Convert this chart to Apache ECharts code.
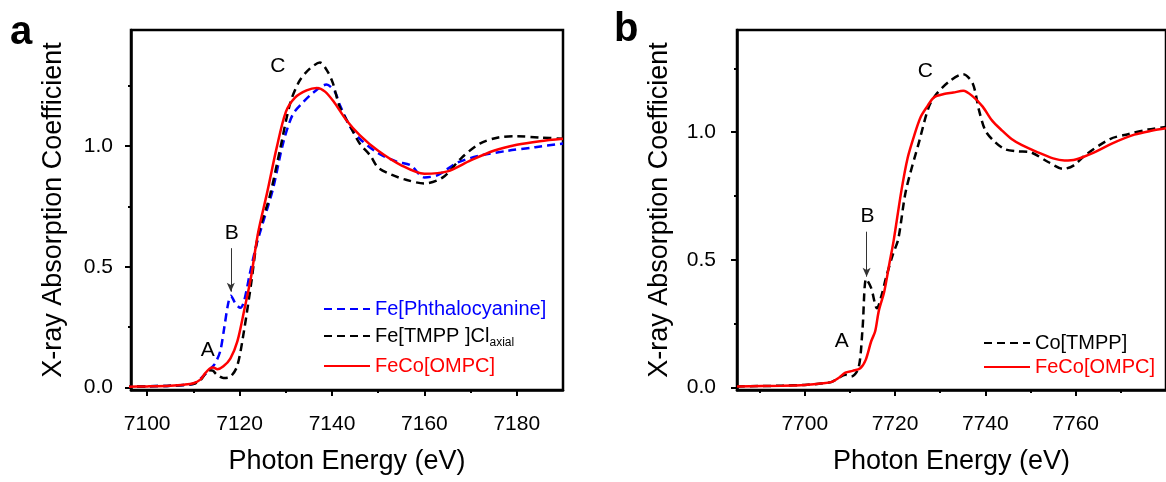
<!DOCTYPE html>
<html>
<head>
<meta charset="utf-8">
<title>XANES</title>
<script src="https://cdn.jsdelivr.net/npm/echarts@6/dist/echarts.min.js"></script>
<style>
html, body { margin: 0; padding: 0; background: #fff; }
#chart { width: 1166px; height: 482px; }
</style>
</head>
<body>
<div id="chart"></div>
<script>
// ---- panel a : Fe K-edge ----
const aPhthE = [7095, 7100, 7105, 7110, 7112, 7113.5, 7114.6, 7115.8, 7116.7, 7117.5, 7118.1, 7119.2, 7120.2, 7121, 7122.2, 7123.5, 7124.7, 7127.2, 7129.4, 7131.5, 7133.7, 7135.9, 7138.8, 7140.6, 7141.7, 7143.9, 7146, 7150, 7154, 7157, 7160, 7163, 7167, 7172, 7178, 7184, 7190];
const aPhthY = [0.003, 0.005, 0.008, 0.016, 0.045, 0.075, 0.097, 0.15, 0.25, 0.345, 0.38, 0.345, 0.33, 0.36, 0.47, 0.58, 0.66, 0.82, 1.01, 1.13, 1.18, 1.22, 1.254, 1.225, 1.17, 1.08, 1.03, 0.97, 0.935, 0.92, 0.87, 0.88, 0.93, 0.96, 0.98, 0.995, 1.01];

const aTmppE = [7095, 7100, 7105, 7110, 7111.5, 7112.5, 7113.3, 7114.2, 7115, 7116.5, 7118, 7119.5, 7121, 7122.5, 7124, 7126.5, 7128.7, 7131, 7133, 7135.2, 7137.4, 7139, 7140.2, 7141.7, 7144, 7146, 7148.3, 7150, 7153, 7156, 7160, 7164, 7168, 7172, 7176, 7180, 7185, 7190];
const aTmppY = [0.003, 0.005, 0.008, 0.015, 0.03, 0.055, 0.072, 0.07, 0.055, 0.04, 0.045, 0.09, 0.24, 0.43, 0.63, 0.79, 0.98, 1.18, 1.27, 1.32, 1.345, 1.31, 1.26, 1.16, 1.08, 1.01, 0.96, 0.91, 0.88, 0.86, 0.845, 0.87, 0.95, 1.01, 1.035, 1.04, 1.035, 1.03];

const aOmpcE = [7095, 7100, 7105, 7108, 7110, 7111.5, 7112.5, 7113.5, 7114.3, 7115.2, 7116.5, 7118, 7119.5, 7121, 7122.5, 7124, 7126, 7128, 7130, 7132, 7134.5, 7136.7, 7138.5, 7140.5, 7143, 7146, 7150, 7155, 7160, 7165, 7170, 7175, 7180, 7185, 7190];
const aOmpcY = [0.003, 0.005, 0.008, 0.012, 0.018, 0.033, 0.058, 0.078, 0.083, 0.076, 0.088, 0.12, 0.19, 0.32, 0.46, 0.64, 0.81, 0.99, 1.14, 1.2, 1.23, 1.24, 1.225, 1.18, 1.11, 1.045, 0.98, 0.92, 0.885, 0.895, 0.94, 0.98, 1.005, 1.02, 1.03];

// ---- panel b : Co K-edge ----
const bTmppE = [7685, 7695, 7700, 7704, 7706, 7707.4, 7709, 7710.3, 7711.9, 7712.8, 7713.6, 7714.7, 7716, 7717, 7718, 7719.5, 7720.7, 7722.4, 7725.4, 7727.5, 7729.2, 7732.1, 7735.1, 7737.2, 7738.6, 7740, 7741.8, 7744.2, 7747, 7750, 7754, 7757.3, 7759.6, 7762, 7767.6, 7771.6, 7776, 7780];
const bTmppY = [0.004, 0.007, 0.01, 0.016, 0.022, 0.036, 0.05, 0.043, 0.075, 0.23, 0.425, 0.39, 0.31, 0.36, 0.43, 0.52, 0.58, 0.77, 0.967, 1.1, 1.15, 1.2, 1.227, 1.19, 1.085, 1.006, 0.967, 0.934, 0.925, 0.921, 0.882, 0.856, 0.87, 0.908, 0.973, 0.992, 1.01, 1.02];

const bOmpcE = [7685, 7695, 7700, 7704, 7706, 7707.4, 7709, 7710.6, 7712.3, 7713.5, 7714.7, 7715.6, 7716.4, 7717.6, 7718.8, 7719.7, 7721.4, 7722.8, 7724.3, 7725.7, 7727.1, 7728.6, 7730.8, 7732.9, 7735.1, 7737.2, 7739.4, 7741.5, 7743.7, 7745.8, 7748, 7751.6, 7755, 7757.5, 7760, 7764, 7768, 7773, 7777, 7780];
const bOmpcY = [0.004, 0.007, 0.01, 0.016, 0.022, 0.036, 0.058, 0.065, 0.075, 0.108, 0.18, 0.22, 0.3, 0.375, 0.49, 0.576, 0.77, 0.9, 0.99, 1.06, 1.1, 1.136, 1.149, 1.155, 1.162, 1.14, 1.1, 1.045, 1.006, 0.973, 0.95, 0.921, 0.897, 0.889, 0.893, 0.92, 0.955, 0.99, 1.006, 1.015];

// ticks
const aTicks = [7100, 7120, 7140, 7160, 7180];
const aMinor = [7110, 7130, 7150, 7170];
const bTicks = [7700, 7720, 7740, 7760];
const bMinor = [7690, 7710, 7730, 7750, 7770];
const yTicks = [0, 0.5, 1.0];
const yMinor = [0.25, 0.75, 1.25];

// peak labels [energy, value, text]
const aPeaks = [[7113.1, 0.155, 'A'], [7118.3, 0.64, 'B'], [7128.3, 1.33, 'C']];
const bPeaks = [[7708.2, 0.18, 'A'], [7713.9, 0.67, 'B'], [7726.7, 1.24, 'C']];
const aArrow = [[7118.1, 0.577], [7118.1, 0.397]];
const bArrow = [[7713.7, 0.61], [7713.7, 0.434]];

const FONT = "'Liberation Sans', Arial, sans-serif";
const BLACK = '#000000', RED = '#ff0000', BLUE = '#0000ff';

function pairs(xs, ys) {
    return xs.map((x, i) => [x, ys[i]]);
}

function xMajor(grid, min, max, ticks) {
    return {
        type: 'value', gridIndex: grid, min: min, max: max, position: 'bottom',
        name: 'Photon Energy (eV)', nameLocation: 'middle', nameGap: 58,
        nameTextStyle: { fontSize: 27, color: BLACK, fontFamily: FONT },
        axisLine: { show: true, onZero: false, lineStyle: { color: BLACK, width: 2.5 } },
        axisTick: { show: true, customValues: ticks, length: 6, lineStyle: { color: BLACK, width: 2 } },
        axisLabel: {
            show: true, customValues: ticks, margin: 24, fontSize: 21, color: BLACK, fontFamily: FONT,
            formatter: v => String(v)
        },
        splitLine: { show: false }
    };
}

function xMinor(grid, min, max, ticks) {
    return {
        type: 'value', gridIndex: grid, min: min, max: max, position: 'bottom',
        axisLine: { show: false, onZero: false },
        axisTick: { show: true, customValues: ticks, length: 3, lineStyle: { color: BLACK, width: 2 } },
        axisLabel: { show: false },
        splitLine: { show: false }
    };
}

function yMajor(grid, min, max, margin) {
    return {
        type: 'value', gridIndex: grid, min: min, max: max, position: 'left',
        name: 'X-ray Absorption Coefficient', nameLocation: 'middle', nameGap: 64,
        nameTextStyle: { fontSize: 27, color: BLACK, fontFamily: FONT },
        axisLine: { show: true, onZero: false, lineStyle: { color: BLACK, width: 2.5 } },
        axisTick: { show: true, customValues: yTicks, length: 6, lineStyle: { color: BLACK, width: 2 } },
        axisLabel: {
            show: true, customValues: yTicks, margin: margin, fontSize: 21, color: BLACK, fontFamily: FONT,
            formatter: v => v.toFixed(1)
        },
        splitLine: { show: false }
    };
}

function yMinorAxis(grid, min, max) {
    return {
        type: 'value', gridIndex: grid, min: min, max: max, position: 'left',
        axisLine: { show: false, onZero: false },
        axisTick: { show: true, customValues: yMinor, length: 3, lineStyle: { color: BLACK, width: 2 } },
        axisLabel: { show: false },
        splitLine: { show: false }
    };
}

function curve(name, xi, xs, ys, color, dashed) {
    return {
        type: 'line', name: name, xAxisIndex: xi, yAxisIndex: xi,
        data: pairs(xs, ys), symbol: 'none', showSymbol: false, smooth: 0.3,
        lineStyle: { color: color, width: 2.5, type: dashed ? [8, 5] : 'solid' },
        itemStyle: { color: color },
        z: dashed ? 2 : 3
    };
}

// invisible carrier series for the A/B/C labels and the arrow
function notes(xi, peaks, arrow) {
    return {
        type: 'line', xAxisIndex: xi, yAxisIndex: xi, data: [], silent: true,
        markPoint: {
            symbol: 'circle', symbolSize: 1, itemStyle: { color: 'transparent' },
            label: { show: true, position: 'inside', formatter: '{b}', fontSize: 21, color: BLACK, fontFamily: FONT },
            data: peaks.map(p => ({ name: p[2], coord: [p[0], p[1]] }))
        },
        markLine: {
            silent: true, symbol: ['none', 'arrow'], symbolSize: [6, 9],
            lineStyle: { color: '#333', width: 1, type: 'solid' },
            label: { show: false },
            data: [[{ coord: arrow[0] }, { coord: arrow[1] }]]
        }
    };
}

const legendText = {
    fontSize: 20, fontFamily: FONT,
    rich: {
        n: { fontSize: 20, color: BLACK, fontFamily: FONT },
        s: { fontSize: 12, color: BLACK, fontFamily: FONT, padding: [11, 0, 0, 0], verticalAlign: 'top', lineHeight: 12 }
    }
};

// the line legend icon carries a symbol; hide it so only the line sample shows
const legendBase = {
    orient: 'vertical', itemWidth: 46, itemHeight: 14, selectedMode: false,
    itemStyle: { opacity: 0, borderWidth: 0 }
};

const chart = echarts.init(document.getElementById('chart'), null, { renderer: 'canvas' });

const option = {
    backgroundColor: '#ffffff',
    animation: false,
    grid: [
        { left: 131, top: 30, width: 432, height: 360, show: true, borderColor: BLACK, borderWidth: 2.5, backgroundColor: 'transparent' },
        { left: 737, top: 30, width: 442, height: 360, show: true, borderColor: BLACK, borderWidth: 2.5, backgroundColor: 'transparent' }
    ],
    xAxis: [
        xMajor(0, 7096.5, 7190, aTicks),
        xMinor(0, 7096.5, 7190, aMinor),
        xMajor(1, 7685, 7780, bTicks),
        xMinor(1, 7685, 7780, bMinor)
    ],
    yAxis: [
        yMajor(0, -0.01, 1.48, 18),
        yMinorAxis(0, -0.01, 1.48),
        yMajor(1, -0.01, 1.40, 21),
        yMinorAxis(1, -0.01, 1.40)
    ],
    legend: [
        Object.assign({}, legendBase, {
            left: 318, top: 294, itemGap: 7, textStyle: legendText,
            formatter: name => name === 'Fe[TMPP ]Cl_axial' ? '{n|Fe[TMPP ]Cl}{s|axial}' : name,
            data: [
                { name: 'Fe[Phthalocyanine]', textStyle: { color: BLUE } },
                { name: 'Fe[TMPP ]Cl_axial', textStyle: { color: BLACK } },
                { name: 'FeCo[OMPC]', textStyle: { color: RED } }
            ]
        }),
        Object.assign({}, legendBase, {
            left: 978, top: 328, itemGap: 4, textStyle: { fontSize: 20, fontFamily: FONT },
            data: [
                { name: 'Co[TMPP]', textStyle: { color: BLACK } },
                { name: 'FeCo[OMPC]', textStyle: { color: RED } }
            ]
        })
    ],
    graphic: [
        { type: 'text', left: 10, top: 13, style: { text: 'a', font: 'bold 40px ' + FONT, fill: BLACK } },
        { type: 'text', left: 614, top: 10, style: { text: 'b', font: 'bold 40px ' + FONT, fill: BLACK } }
    ],
    series: [
        curve('Fe[Phthalocyanine]', 0, aPhthE, aPhthY, BLUE, true),
        curve('Fe[TMPP ]Cl_axial', 0, aTmppE, aTmppY, BLACK, true),
        curve('FeCo[OMPC]', 0, aOmpcE, aOmpcY, RED, false),
        notes(0, aPeaks, aArrow),
        curve('Co[TMPP]', 2, bTmppE, bTmppY, BLACK, true),
        curve('FeCo[OMPC]', 2, bOmpcE, bOmpcY, RED, false),
        notes(2, bPeaks, bArrow)
    ]
};

chart.setOption(option);
</script>
</body>
</html>
